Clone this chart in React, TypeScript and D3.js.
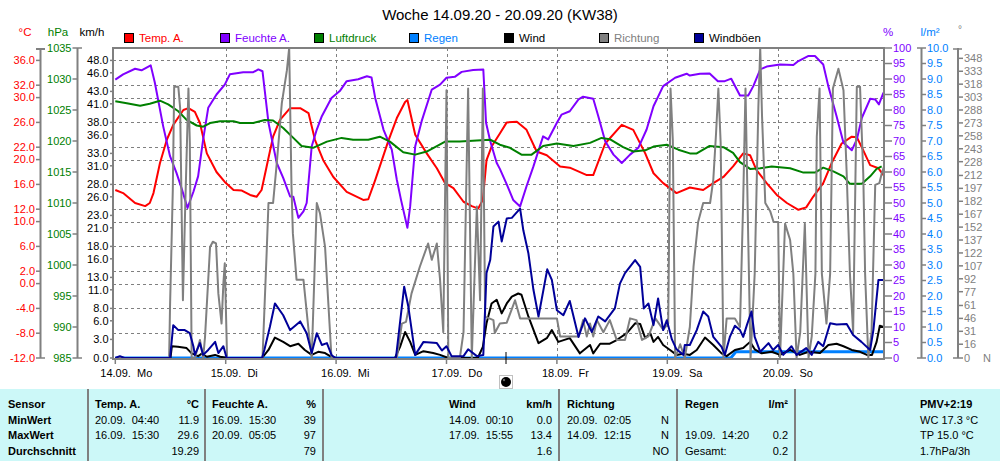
import React from 'react';
import * as d3 from 'd3';

type P = [number, number];

// hours since 14.09. 00:00 -> value
const tempData: P[] = [
  [0, 15.1], [1.7, 14.6], [4.3, 13.0], [6.5, 12.5], [7.5, 13.0], [8.3, 14.6], [9.7, 19.4], [11.2, 23.2], [12.6, 25.6],
  [14.8, 28.0], [15.9, 28.3], [17.3, 27.7], [18.4, 25.9], [19.9, 21.0], [22.0, 18.0], [23.8, 16.4], [25.7, 15.1],
  [27.5, 15.0], [29.3, 14.3], [30.7, 14.0], [31.8, 15.1], [32.9, 18.9], [34.3, 23.7], [35.8, 26.4], [38.0, 28.3],
  [40.2, 28.3], [42.0, 27.5], [43.4, 23.2], [45.2, 19.9], [47.4, 17.2], [50.3, 14.8], [53.9, 13.5], [55.0, 13.6],
  [56.5, 16.7], [59.3, 22.9], [61.2, 26.7], [63.0, 29.3], [63.5, 29.6], [65.2, 24.0], [67.7, 21.0], [69.9, 18.6],
  [71.7, 16.2], [73.5, 15.4], [75.7, 13.2], [77.5, 12.5], [78.9, 12.1], [79.9, 13.5], [80.7, 19.9], [81.8, 22.1],
  [83.6, 24.2], [85.1, 26.0], [87.3, 26.1], [89.4, 24.8], [91.6, 21.3], [93.8, 20.7], [96.7, 18.9], [98.8, 18.7],
  [102.5, 17.5], [103.9, 17.5], [106.5, 22.6], [110.1, 25.6], [112.6, 24.8], [115.2, 21.0], [117.0, 17.8],
  [119.1, 16.2], [122.0, 14.6], [124.9, 15.5], [127.8, 15.1], [130.0, 16.2], [132.2, 17.2], [134.3, 18.9],
  [136.5, 21.0], [138.0, 20.7], [139.4, 18.3], [141.6, 16.2], [143.8, 14.3], [146.0, 13.0], [148.5, 11.9],
  [150.2, 12.3], [151.7, 14.0], [153.9, 16.2], [155.7, 19.4], [157.9, 22.6], [160.1, 23.7], [161.2, 23.6],
  [162.6, 21.5], [164.1, 19.1], [165.9, 18.6], [167.0, 17.5],
];

const humData: P[] = [
  [0, 89.8], [1.7, 91.5], [4.3, 93.3], [5.7, 92.8], [7.7, 94.4], [8.6, 88.8], [10.4, 74.8], [11.9, 65.1], [13.3, 59.7],
  [14.4, 54.8], [15.7, 48.4], [17.0, 53.7], [18.0, 58.6], [19.1, 70.5], [20.2, 80.7], [22.0, 85.0], [23.8, 88.2],
  [24.9, 91.5], [27.8, 92.2], [30.0, 92.2], [31.1, 93.1], [32.0, 92.5], [33.3, 75.9], [35.1, 62.9], [36.5, 58.1],
  [38.0, 52.1], [38.7, 52.0], [39.8, 45.2], [40.9, 47.3], [41.6, 50.0], [42.7, 68.3], [43.8, 73.7], [44.9, 78.0],
  [47.0, 83.9], [48.8, 86.1], [50.3, 89.3], [52.8, 89.9], [54.7, 90.9], [55.7, 90.5], [56.5, 83.9], [58.3, 73.7],
  [60.1, 67.2], [61.2, 57.5], [62.1, 51.1], [63.5, 42], [64.1, 48.9], [65.2, 68.3], [66.6, 76.4], [68.8, 86.6],
  [70.6, 88.2], [72.0, 90.4], [73.8, 90.7], [75.3, 92.3], [77.8, 92.9], [80.0, 93.1], [80.6, 75.9], [81.5, 70],
  [82.9, 63], [83.6, 61], [85.1, 56], [86.5, 51], [88.0, 48.9], [89.4, 55.4], [90.9, 61.8], [92.3, 68.3],
  [93.0, 71.5], [94.1, 70.5], [96.0, 75.9], [97.0, 78.5], [98.8, 79.6], [100.7, 83.4], [101.7, 84.3],
  [103.9, 83.6], [105.0, 78.0], [106.5, 69.9], [108.3, 65.6], [110.1, 62.9], [111.9, 65.6], [113.7, 67.8],
  [115.5, 73.7], [117.0, 81.2], [119.1, 87.7], [121.7, 90.4], [124.2, 91.7], [124.9, 91.1], [127.1, 91.7],
  [129.2, 91.8], [131.0, 89.3], [132.5, 89.3], [133.9, 90.1], [135.8, 84.7], [137.6, 84.7], [138.7, 87.7],
  [140.2, 93.1], [141.6, 94.0], [144.5, 94.7], [147.4, 94.5], [148.5, 95.8], [150.6, 97.4], [152.1, 97.4],
  [153.9, 94.7], [155.0, 87.7], [156.8, 78.0], [158.3, 69.4], [160.1, 67.0], [161.2, 70.5], [162.3, 77.5],
  [164.1, 83.6], [165.2, 83.4], [166.0, 81.8], [167.0, 85.6],
];

const pressData: P[] = [
  [0, 1026.4], [2.5, 1026.1], [5.4, 1025.7], [7.5, 1026.0], [9.7, 1026.5], [11.5, 1025.9], [13.7, 1024.8],
  [15.5, 1023.4], [17.7, 1022.5], [19.1, 1022.3], [20.6, 1022.9], [22.8, 1023.2], [25.7, 1023.2], [27.1, 1022.9],
  [30.0, 1022.9], [32.5, 1023.4], [34.3, 1023.3], [36.5, 1022.1], [38.7, 1020.5], [40.5, 1019.2], [42.3, 1019.0],
  [43.0, 1018.9], [46.0, 1019.9], [49.2, 1020.5], [51.7, 1020.2], [55.0, 1020.2], [57.5, 1020.7], [59.7, 1019.9],
  [62.6, 1018.2], [65.2, 1017.8], [67.7, 1018.3], [71.7, 1019.9], [74.9, 1019.9], [78.6, 1020.1], [81.5, 1020.2],
  [83.6, 1019.4], [85.8, 1018.9], [88.3, 1017.8], [90.5, 1017.8], [93.0, 1019.2], [96.0, 1019.6], [99.6, 1019.2],
  [103.2, 1019.7], [105.7, 1020.5], [107.5, 1020.3], [110.4, 1019.0], [112.6, 1018.3], [115.2, 1018.5],
  [117.0, 1019.1], [119.9, 1019.4], [122.4, 1018.6], [124.9, 1018.0], [126.4, 1018.0], [129.2, 1019.2],
  [132.2, 1019.0], [134.3, 1018.1], [135.8, 1016.6], [138.0, 1015.5], [140.2, 1015.6], [142.7, 1015.9],
  [146.7, 1015.6], [149.6, 1014.9], [152.1, 1014.9], [153.9, 1015.7], [156.1, 1015.1], [158.3, 1014.3],
  [159.7, 1013.1], [162.3, 1013.1], [164.1, 1014.3], [165.5, 1015.5], [166.6, 1015.9],
];

const rainData: P[] = [[0, 0], [133.8, 0], [134.9, 0.2], [167, 0.2]];

const windData: P[] = [
  [0, 0], [12.0, 0], [12.3, 1.9], [13.6, 1.8], [15.5, 1.6], [16.6, 0.75], [18.0, 0.3], [18.8, 0.7], [19.9, 0.2],
  [21.7, 0.5], [22.8, 0.2], [24.5, 0], [31.9, 0], [33.3, 1.3], [34.7, 3.3], [36.5, 2.6], [38.0, 1.9], [39.8, 2.3],
  [41.2, 1.3], [42.7, 0.5], [44.1, 1.0], [45.6, 0.8], [46.7, 0.3], [48.0, 0], [60.8, 0], [61.9, 1.8], [63.0, 4.2],
  [64.1, 2.6], [65.2, 0.5], [67.0, 1.1], [69.1, 0.8], [70.6, 0.5], [72.4, 0], [78.8, 0], [79.9, 1.8], [80.7, 5.6],
  [81.8, 8.8], [82.9, 9.4], [84.0, 7.2], [85.1, 8.8], [86.2, 9.9], [87.6, 10.4], [88.3, 10.2], [89.8, 6.7],
  [92.0, 2.4], [93.8, 3.2], [94.9, 4.5], [96.3, 2.6], [98.8, 3.2], [101.0, 0.75], [103.2, 2.1], [103.9, 0.75],
  [105.4, 2.3], [107.5, 2.3], [109.0, 2.9], [111.2, 4.0], [113.0, 5.6], [114.1, 5.5], [115.2, 3.2], [116.3, 4.0],
  [117.0, 2.6], [118.0, 3.4], [119.1, 2.1], [120.6, 1.3], [122.0, 0.5], [123.5, 0.7], [124.9, 0.5], [126.4, 1.3],
  [128.2, 3.3], [130.0, 2.1], [131.8, 0.75], [132.9, 0.3], [134.7, 1.3], [136.5, 1.6], [138.0, 2.6], [139.0, 1.4],
  [140.5, 0.75], [142.7, 1.0], [144.5, 0.5], [146.7, 1.3], [148.8, 0.5], [150.7, 1.0], [153.2, 0.8], [155.0, 2.1],
  [156.8, 2.3], [158.3, 1.9], [160.1, 1.3], [161.9, 1.0], [163.4, 0.5], [164.5, 0.5], [165.5, 2.6], [166.2, 5.2],
  [167.0, 5.0],
];

const dirData: P[] = [
  [0, 0], [11.7, 0], [11.9, 60], [12.5, 195], [12.8, 315], [13.7, 315], [14.1, 290], [14.7, 67], [15.2, 176],
  [15.9, 313], [16.2, 250], [16.6, 0], [17.3, 0], [18.4, 21], [19.1, 0], [19.5, 24], [20.6, 129], [21.2, 135],
  [21.9, 133], [22.4, 75], [23.1, 40], [23.5, 87], [23.8, 110], [24.3, 0], [32.0, 0], [32.9, 122], [33.3, 180],
  [34.3, 180], [35.1, 226], [36.2, 296], [37.3, 334], [37.8, 360], [38.3, 200], [38.6, 145], [39.4, 91],
  [40.9, 91], [42.0, 33], [42.7, 0], [43.8, 180], [44.5, 168], [45.6, 129], [47.0, 0], [61.2, 0], [62.3, 40],
  [63.2, 42], [64.4, 75], [66.2, 106], [68.0, 133], [68.8, 114], [69.9, 133], [70.6, 91], [71.3, 30], [72.0, 311],
  [72.4, 0], [74.9, 0], [75.7, 30], [76.7, 313], [77.5, 0], [78.6, 176], [79.3, 67], [79.9, 313], [80.4, 48],
  [82.2, 44], [82.5, 29], [83.6, 40], [85.1, 41], [86.9, 67], [88.0, 46], [96.0, 46], [96.7, 25], [100.7, 25],
  [101.7, 44], [102.5, 25], [103.2, 40], [103.9, 25], [104.7, 44], [106.1, 30], [107.5, 44], [109.0, 21],
  [110.8, 21], [111.9, 46], [113.3, 44], [114.5, 21], [115.9, 25], [117.4, 46], [119.1, 33], [120.2, 40],
  [120.7, 313], [121.2, 253], [121.7, 0], [122.8, 16], [123.8, 0], [124.9, 36], [125.7, 106], [126.7, 158],
  [127.8, 180], [129.3, 180], [130.0, 207], [130.6, 261], [131.1, 313], [131.6, 250], [132.2, 0], [132.9, 46],
  [134.7, 46], [135.8, 36], [136.5, 183], [137.0, 313], [137.6, 137], [138.1, 0], [139.0, 98], [139.8, 292],
  [140.2, 360], [140.6, 280], [141.3, 180], [142.4, 170], [143.1, 158], [144.1, 158], [144.5, 0], [145.6, 156],
  [146.7, 137], [147.4, 98], [148.1, 0], [148.9, 30], [149.9, 156], [150.7, 0], [151.4, 25], [152.2, 98],
  [152.5, 257], [153.1, 313], [153.6, 98], [154.6, 40], [155.4, 98], [156.0, 313], [157.2, 336], [158.3, 311],
  [159.0, 214], [159.7, 98], [160.4, 30], [161.2, 315], [161.9, 315], [162.6, 214], [163.0, 98], [163.7, 0],
  [164.4, 30], [165.2, 201], [166.1, 203], [166.6, 214], [167.1, 222],
];

const gustData: P[] = [
  [0, 0], [1.0, 0.3], [2.0, 0], [11.9, 0], [12.6, 5.3], [13.7, 4.5], [15.1, 4.5], [16.2, 4.0], [17.0, 1.8],
  [17.3, 0.5], [18.4, 2.4], [19.1, 0.5], [20.2, 1.3], [21.7, 2.6], [22.4, 0.8], [23.5, 1.9], [24.2, 0], [31.9, 0],
  [32.4, 1.3], [33.6, 5.0], [34.7, 8.8], [36.5, 6.9], [38.0, 4.5], [40.2, 5.9], [41.6, 4.0], [42.7, 0.8],
  [43.8, 4.0], [44.9, 2.1], [46.0, 2.4], [47.0, 0.5], [47.8, 0], [61.0, 0], [62.8, 11.5], [63.7, 8.3], [65.2, 0.5],
  [67.0, 2.6], [69.9, 2.4], [71.0, 1.2], [72.0, 1.9], [73.1, 0.3], [75.7, 0.3], [76.7, 1.4], [78.6, 0.3],
  [80.0, 0.5], [80.7, 13.7], [81.5, 15.8], [82.2, 21.2], [83.3, 22.0], [84.0, 18.8], [85.1, 22.5], [86.2, 22.6],
  [88.0, 24.1], [88.7, 20.6], [89.8, 16.9], [90.9, 11.0], [92.0, 6.7], [93.9, 14.3], [94.9, 12.6], [96.0, 7.7],
  [97.4, 6.9], [98.8, 9.2], [100.7, 3.4], [102.1, 6.4], [103.6, 4.2], [105.0, 6.7], [106.5, 5.9], [108.6, 8.0],
  [109.7, 12.0], [110.8, 13.7], [113.0, 15.8], [114.1, 14.7], [114.9, 8.0], [115.9, 8.8], [117.0, 5.3],
  [118.0, 9.6], [119.1, 4.5], [119.9, 6.1], [121.0, 3.0], [122.0, 1.4], [123.5, 0.5], [123.8, 2.1], [124.9, 2.1],
  [126.4, 4.5], [127.8, 7.5], [128.9, 6.7], [130.0, 3.4], [131.8, 1.8], [132.5, 0.5], [133.6, 3.4], [134.7, 5.2],
  [135.8, 4.5], [136.5, 3.4], [137.3, 5.3], [138.3, 7.5], [139.0, 3.4], [140.2, 1.0], [142.0, 2.4], [143.0, 1.3],
  [144.1, 2.1], [145.2, 0.5], [147.0, 1.9], [148.1, 0.5], [150.2, 1.6], [151.4, 0.5], [152.8, 2.6], [153.9, 1.9],
  [155.4, 5.6], [156.8, 5.4], [159.0, 5.5], [160.4, 3.7], [162.2, 2.6], [164.1, 1.3], [164.8, 4.5], [165.9, 12.6],
  [167.0, 12.6],
];

const tempTicks = [36, 32, 30, 26, 22, 20, 16, 12, 10, 6, 2, 0, -4, -8, -12];
const pressTicks = [1035, 1030, 1025, 1020, 1015, 1010, 1005, 1000, 995, 990, 985];
const windTicks = [48, 46, 43, 41, 38, 36, 33, 31, 28, 26, 23, 21, 18, 16, 13, 11, 8, 6, 3, 0];
const humTicks = d3.range(0, 101, 5);
const rainTicks = d3.range(0, 10.01, 0.5);
const dirTicks = [0, 16, 31, 46, 61, 77, 92, 107, 122, 137, 152, 167, 182, 197, 212, 228, 243, 258, 273, 288, 303, 318, 333, 348];
const dayLabels = ['14.09.  Mo', '15.09.  Di', '16.09.  Mi', '17.09.  Do', '18.09.  Fr', '19.09.  Sa', '20.09.  So'];

const legendItems = [
  { label: 'Temp. A.', color: '#FF0000', text: '#FF0000' },
  { label: 'Feuchte A.', color: '#8000FF', text: '#8000FF' },
  { label: 'Luftdruck', color: '#008000', text: '#008000' },
  { label: 'Regen', color: '#0080FF', text: '#0080FF' },
  { label: 'Wind', color: '#000000', text: '#000000' },
  { label: 'Richtung', color: '#808080', text: '#808080' },
  { label: 'Windböen', color: '#000099', text: '#000000' },
];

const rowLabels = ['Sensor', 'MinWert', 'MaxWert', 'Durchschnitt'];
const tableCols = [
  { left: 95, right: 199, head: 'Temp. A.', unit: '°C', rows: [['20.09.  04:40', '11.9'], ['16.09.  15:30', '29.6'], ['', '19.29']] },
  { left: 212, right: 316, head: 'Feuchte A.', unit: '%', rows: [['16.09.  15:30', '39'], ['20.09.  05:05', '97'], ['', '79']] },
  { left: 449, right: 552, head: 'Wind', unit: 'km/h', rows: [['14.09.  00:10', '0.0'], ['17.09.  15:55', '13.4'], ['', '1.6']] },
  { left: 567, right: 669, head: 'Richtung', unit: '', rows: [['20.09.  02:05', 'N'], ['14.09.  12:15', 'N'], ['', 'NO']] },
  { left: 685, right: 788, head: 'Regen', unit: 'l/m²', rows: [['', ''], ['19.09.  14:20', '0.2'], ['Gesamt:', '0.2']] },
];
const pmvLines = ['PMV+2:19', 'WC 17.3 °C', 'TP 15.0 °C', '1.7hPa/3h'];
const tableSeparators = [88, 205, 323, 559, 677, 795];

const GRAY = '#808080';
const FONT = "'Liberation Sans', Arial, sans-serif";

export default function App() {
  const L = 113, R = 884, T = 48, B = 358;
  const x = d3.scaleLinear().domain([0, 168]).range([115.3, 888.1]);
  const yT = d3.scaleLinear().domain([-12, 38]).range([B, T]);
  const yP = d3.scaleLinear().domain([985, 1035]).range([B, T]);
  const yW = d3.scaleLinear().domain([0, 50]).range([B, T]);
  const yH = d3.scaleLinear().domain([0, 100]).range([B, T]);
  const yR = d3.scaleLinear().domain([0, 10]).range([B, T]);
  const yD = d3.scaleLinear().domain([0, 360]).range([B, T]);

  const mk = (ys: d3.ScaleLinear<number, number>) =>
    d3.line<P>().x((d) => x(d[0])).y((d) => ys(d[1]));

  const series = [
    { data: tempData, ys: yT, color: '#FF0000', w: 2 },
    { data: humData, ys: yH, color: '#8000FF', w: 2 },
    { data: pressData, ys: yP, color: '#008000', w: 2 },
    { data: rainData, ys: yR, color: '#0080FF', w: 3 },
    { data: windData, ys: yW, color: '#000000', w: 2 },
    { data: dirData, ys: yD, color: GRAY, w: 2 },
    { data: gustData, ys: yW, color: '#000099', w: 2 },
  ];

  const days = d3.range(0, 7);
  const rowY = (i: number) => 408 + i * 15.7;

  return (
    <svg width={1000} height={461} style={{ position: 'absolute', left: 0, top: 0, display: 'block' }}
      fontFamily={FONT} fontSize={11}>
      <rect x={0} y={0} width={1000} height={461} fill="#FFFFFF" />
      <defs>
        <clipPath id="plot"><rect x={L} y={T} width={R - L} height={B - T + 1} /></clipPath>
      </defs>

      {/* title */}
      <text x={500} y={20} textAnchor="middle" fontSize={15} fill="#000">Woche 14.09.20 - 20.09.20 (KW38)</text>

      {/* legend */}
      {legendItems.map((it, i) => {
        const lx = [124, 220, 314, 409, 504, 599, 694][i];
        return (
          <g key={it.label}>
            <rect x={lx + 0.5} y={33.5} width={9} height={9} fill={it.color} stroke="#000" strokeWidth={1} />
            <text x={lx + 15} y={42} fontSize={11.5} fill={it.text}>{it.label}</text>
          </g>
        );
      })}

      {/* axis headers */}
      <text x={25} y={36} textAnchor="middle" fill="#FF0000" fontSize={11.5}>°C</text>
      <text x={58} y={36} textAnchor="middle" fill="#008000" fontSize={11.5}>hPa</text>
      <text x={92} y={36} textAnchor="middle" fill="#000" fontSize={11.5}>km/h</text>
      <text x={888} y={36} textAnchor="middle" fill="#8000FF" fontSize={11.5}>%</text>
      <text x={930} y={36} textAnchor="middle" fill="#0080FF" fontSize={11.5}>l/m²</text>
      <text x={960} y={33} textAnchor="middle" fill={GRAY} fontSize={10}>°</text>

      {/* gridlines */}
      {tempTicks.filter((t) => t > -12).map((t) => (
        <line key={'hg' + t} x1={L} x2={R} y1={Math.round(yT(t)) + 0.5} y2={Math.round(yT(t)) + 0.5}
          stroke={GRAY} strokeDasharray="3,3" strokeWidth={1} />
      ))}
      {days.slice(1).map((d) => (
        <line key={'vg' + d} x1={Math.round(x(d * 24)) + 0.5} x2={Math.round(x(d * 24)) + 0.5} y1={T} y2={B}
          stroke={GRAY} strokeDasharray="3,3" strokeWidth={1} />
      ))}

      {/* series */}
      <g clipPath="url(#plot)">
        {series.map((s, i) => (
          <path key={i} d={mk(s.ys)(s.data) || ''} fill="none" stroke={s.color} strokeWidth={s.w}
            strokeLinejoin="round" />
        ))}
      </g>

      {/* frame */}
      <rect x={L} y={T} width={R - L} height={B - T + 1} fill="none" stroke={GRAY} strokeWidth={2} />

      {/* temperature axis */}
      <line x1={40.5} x2={40.5} y1={T} y2={B} stroke={GRAY} strokeWidth={2} />
      <line x1={36} x2={45} y1={T + 1} y2={T + 1} stroke={GRAY} strokeWidth={2} />
      {tempTicks.map((t) => (
        <g key={'tt' + t}>
          <line x1={36} x2={t === -12 ? 45 : 40} y1={yT(t)} y2={yT(t)} stroke={GRAY} strokeWidth={1.5} />
          <text x={35} y={yT(t)} dy="0.35em" textAnchor="end" fill="#FF0000">{t.toFixed(1)}</text>
        </g>
      ))}

      {/* pressure axis */}
      <line x1={77.5} x2={77.5} y1={T} y2={B} stroke={GRAY} strokeWidth={2} />
      {pressTicks.map((p) => (
        <g key={'pt' + p}>
          <line x1={72.5} x2={p === 1035 || p === 985 ? 82 : 77} y1={yP(p)} y2={yP(p)} stroke={GRAY} strokeWidth={1.5} />
          <text x={71.5} y={yP(p)} dy="0.35em" textAnchor="end" fill="#008000">{p}</text>
        </g>
      ))}

      {/* wind axis */}
      {windTicks.map((w) => (
        <g key={'wt' + w}>
          <line x1={110} x2={113} y1={yW(w)} y2={yW(w)} stroke={GRAY} strokeWidth={1.5} />
          <text x={108.5} y={yW(w)} dy="0.35em" textAnchor="end" fill="#000">{w.toFixed(1)}</text>
        </g>
      ))}

      {/* humidity axis */}
      {humTicks.map((h) => (
        <g key={'ht' + h}>
          <line x1={R} x2={892} y1={yH(h)} y2={yH(h)} stroke={GRAY} strokeWidth={1.5} />
          <text x={893} y={yH(h)} dy="0.35em" fill="#8000FF">{h}</text>
        </g>
      ))}

      {/* rain axis */}
      <line x1={921.5} x2={921.5} y1={T} y2={B} stroke={GRAY} strokeWidth={2} />
      {rainTicks.map((r) => (
        <g key={'rt' + r}>
          <line x1={r === 0 || r === 10 ? 917 : 921} x2={926} y1={yR(r)} y2={yR(r)} stroke={GRAY} strokeWidth={1.5} />
          <text x={927} y={yR(r)} dy="0.35em" fill="#0080FF">{r.toFixed(1)}</text>
        </g>
      ))}

      {/* direction axis */}
      <line x1={958} x2={958} y1={T} y2={B} stroke={GRAY} strokeWidth={2} />
      <line x1={953} x2={962} y1={T + 1} y2={T + 1} stroke={GRAY} strokeWidth={1.5} />
      {dirTicks.map((dd) => (
        <g key={'dt' + dd}>
          <line x1={dd === 0 ? 953 : 958} x2={963} y1={yD(dd)} y2={yD(dd)} stroke={GRAY} strokeWidth={1.5} />
          <text x={964} y={yD(dd)} dy="0.35em" fill={GRAY}>{dd}</text>
        </g>
      ))}
      <text x={983} y={B} dy="0.35em" fill={GRAY}>N</text>

      {/* x axis */}
      {days.map((d) => (
        <g key={'xd' + d}>
          <line x1={x(d * 24)} x2={x(d * 24)} y1={B} y2={B + 6} stroke={GRAY} strokeWidth={1.5} />
          <text x={x(d * 24) - 15} y={377} fill="#000" style={{ whiteSpace: 'pre' }}>{dayLabels[d]}</text>
        </g>
      ))}

      {/* marker */}
      <line x1={506} x2={506} y1={352} y2={364} stroke="#000" strokeWidth={1} />
      <rect x={499.5} y={375.5} width={13} height={13} fill="none" stroke={GRAY} strokeWidth={1} strokeDasharray="1,1" />
      <circle cx={506} cy={382} r={5} fill="#000" />
      <circle cx={504} cy={380} r={1.2} fill="#666" />

      {/* table */}
      <rect x={0} y={389} width={1000} height={72} fill="#CCF8F8" />
      {tableSeparators.map((sx) => (
        <line key={'ts' + sx} x1={sx} x2={sx} y1={389} y2={461} stroke={GRAY} strokeWidth={2} />
      ))}
      {rowLabels.map((r, i) => (
        <text key={r} x={8} y={rowY(i)} fontWeight="bold" fill="#000">{r}</text>
      ))}
      {tableCols.map((c) => (
        <g key={c.head}>
          <text x={c.left} y={rowY(0)} fontWeight="bold" fill="#000">{c.head}</text>
          <text x={c.right} y={rowY(0)} fontWeight="bold" textAnchor="end" fill="#000">{c.unit}</text>
          {c.rows.map((r, i) => (
            <g key={i}>
              <text x={c.left} y={rowY(i + 1)} fill="#000" style={{ whiteSpace: 'pre' }}>{r[0]}</text>
              <text x={c.right} y={rowY(i + 1)} textAnchor="end" fill="#000">{r[1]}</text>
            </g>
          ))}
        </g>
      ))}
      {pmvLines.map((p, i) => (
        <text key={p} x={920} y={rowY(i)} fontWeight={i === 0 ? 'bold' : 'normal'} fill="#000">{p}</text>
      ))}
    </svg>
  );
}
